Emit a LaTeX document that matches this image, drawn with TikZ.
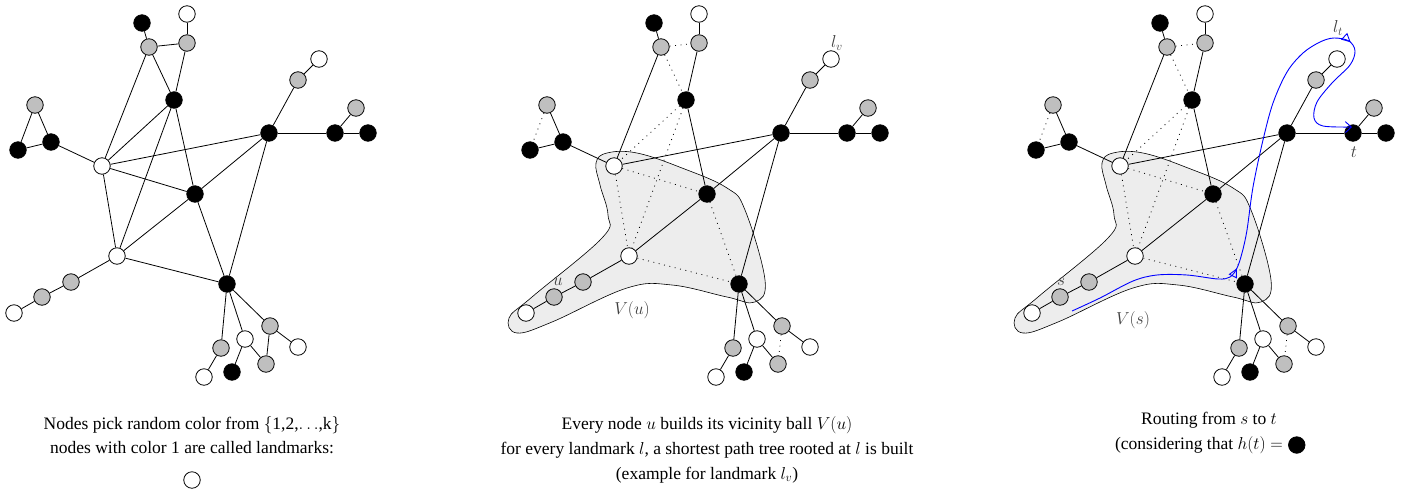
\documentclass[tikz,border=0pt]{standalone}
\usepackage{fontspec}
\setmainfont{Liberation Serif}
\usetikzlibrary{decorations.markings,arrows.meta}
\newcommand\graphnodes{%
\node[bv] (B1) at (142,23) {};
\node[wv] (W1) at (187,14) {};
\node[gv] (G1) at (149,47) {};
\node[gv] (G2) at (187,43) {};
\node[bv] (B2) at (174,100) {};
\node[gv] (G3) at (35,105) {};
\node[bv] (B3) at (51,142) {};
\node[bv] (B4) at (18,150) {};
\node[wv] (W2) at (102,166) {};
\node[bv] (B5) at (195,194) {};
\node[bv] (B6) at (269,133) {};
\node[gv] (G4) at (298,80) {};
\node[wv] (W3) at (319,59) {};
\node[gv] (G5) at (356,108) {};
\node[bv] (B7) at (335,133) {};
\node[bv] (B8) at (368,133) {};
\node[wv] (W4) at (117,256) {};
\node[gv] (G6) at (71,282) {};
\node[gv] (G7) at (42,297) {};
\node[wv] (W5) at (14,313) {};
\node[bv] (B9) at (227,284) {};
\node[gv] (G8) at (270,326) {};
\node[wv] (W6) at (298,347) {};
\node[wv] (W7) at (245,339) {};
\node[gv] (G9) at (266,364) {};
\node[bv] (B10) at (232,372) {};
\node[gv] (G10) at (221,348) {};
\node[wv] (W8) at (204,377) {};
}
\newcommand\graphedges{%
\draw[ed] (B1)--(G1);
\draw[ed] (G2)--(W1);
\draw[ed] (G2)--(B2);
\draw[ed] (G1)--(W2);
\draw[ed] (B2)--(B5);
\draw[ed] (G3)--(B3);
\draw[ed] (B4)--(B3);
\draw[ed] (B3)--(W2);
\draw[ed] (W2)--(B6);
\draw[ed] (B5)--(B6);
\draw[ed] (B5)--(W4);
\draw[ed] (B6)--(G4);
\draw[ed] (G4)--(W3);
\draw[ed] (B6)--(B7);
\draw[ed] (B7)--(G5);
\draw[ed] (B7)--(B8);
\draw[ed] (B6)--(B9);
\draw[ed] (W4)--(G6);
\draw[ed] (G6)--(G7);
\draw[ed] (G7)--(W5);
\draw[ed] (B9)--(G10);
\draw[ed] (G10)--(W8);
\draw[ed] (B9)--(W7);
\draw[ed] (W7)--(B10);
\draw[ed] (W7)--(G9);
\draw[ed] (B9)--(G8);
\draw[ed] (G8)--(W6);
\draw[ed,nt] (G1)--(G2);
\draw[ed,nt] (G1)--(B2);
\draw[ed,nt] (B2)--(W2);
\draw[ed,nt] (B2)--(W4);
\draw[ed,nt] (G3)--(B4);
\draw[ed,nt] (W2)--(B5);
\draw[ed,nt] (W2)--(W4);
\draw[ed,nt] (B5)--(B9);
\draw[ed,nt] (W4)--(B9);
\draw[ed,nt] (G8)--(G9);
}
\newcommand\graphblob{%
\filldraw[blob] plot[smooth cycle, tension=0.65] coordinates {(84,163) (95,153) (125,153) (170,168) (215,188) (233,210) (253,280) (243,302) (215,297) (160,285) (115,288) (40,322) (5,333) (-3,318) (20,297) (90,238) (96,215) (88,185)};
}
\begin{document}
\begin{tikzpicture}[x=1pt,y=-1pt,
  vtx/.style={circle,draw=black,line width=0.8pt,minimum size=16.5pt,inner sep=0pt},
  wv/.style={vtx,fill=white},
  bv/.style={vtx,fill=black},
  gv/.style={vtx,fill=black!25},
  ed/.style={line width=0.8pt,black},
  nt/.style={},
  blob/.style={fill=black!7,draw=black,line width=0.6pt},
  lab/.style={text=black!75,font=\fontsize{17.5}{19}\selectfont,inner sep=1pt},
  captxt/.style={font=\fontsize{17.5}{21}\selectfont,inner sep=0pt},
  route/.style={blue,line width=0.9pt}]
\useasboundingbox (0,0) rectangle (1411,491);
% panel 1
\begin{scope}[name prefix=a-]
\graphnodes
\graphedges
\end{scope}
% panel 2
\begin{scope}[xshift=512pt,name prefix=b-,nt/.style={dash pattern=on 0.9pt off 4.6pt}]
\graphblob
\graphnodes
\graphedges
\node[lab] (lv) at (325,43) {$l_v$};
\node[lab] (u) at (46,282) {$u$};
\node[lab] (Vu) at (120,310) {$V(u)$};
\end{scope}
% panel 3
\begin{scope}[xshift=1018pt,name prefix=c-,nt/.style={dash pattern=on 0.9pt off 4.6pt}]
\graphblob
\graphnodes
\graphedges
\node[lab] (lt) at (320,28) {$l_t$};
\node[lab] (s) at (43,282) {$s$};
\node[lab] (Vs) at (115,320) {$V(s)$};
\node[lab] (t) at (336,152) {$t$};
\draw[route,-{Straight Barb[length=6pt,width=11pt]},
  postaction={decorate},
  decoration={markings,
    mark=at position 0.3 with {\arrow{Triangle[open,length=9pt,width=9pt]}},
    mark=at position 0.775 with {\arrow{Triangle[open,length=9pt,width=9pt]}}}]
  plot[smooth,tension=0.55] coordinates {(54,311) (82,298) (115,281) (139,275) (169,275) (200,279) (212,277) (219,268) (224,253) (229,230) (235,187) (245,140) (255,103) (269,72) (285,53) (302,42) (316,38) (331,41) (337,51) (332,65) (314,83) (299,102) (296,118) (305,126) (334,127)};
\end{scope}
% captions
\node[captxt] (c1a) at (192,425) {Nodes pick random color from $\{$1,2,$\ldots$,k$\}$};
\node[captxt] (c1b) at (192,448) {nodes with color 1 are called landmarks:};
\node[wv] (c1c) at (192,480) {};
\node[captxt] (c2a) at (707,425) {Every node $u$ builds its vicinity ball $V(u)$};
\node[captxt] (c2b) at (707,450) {for every landmark $l$, a shortest path tree rooted at $l$ is built};
\node[captxt] (c2c) at (707,475) {(example for landmark $l_v$)};
\node[captxt] (c3a) at (1209,420) {Routing from $s$ to $t$};
\node[captxt] (c3b) at (1199,445) {(considering that $h(t) =$};
\node[bv,anchor=west] (c3c) at ([xshift=5pt]c3b.east) {};
\end{tikzpicture}
\end{document}
